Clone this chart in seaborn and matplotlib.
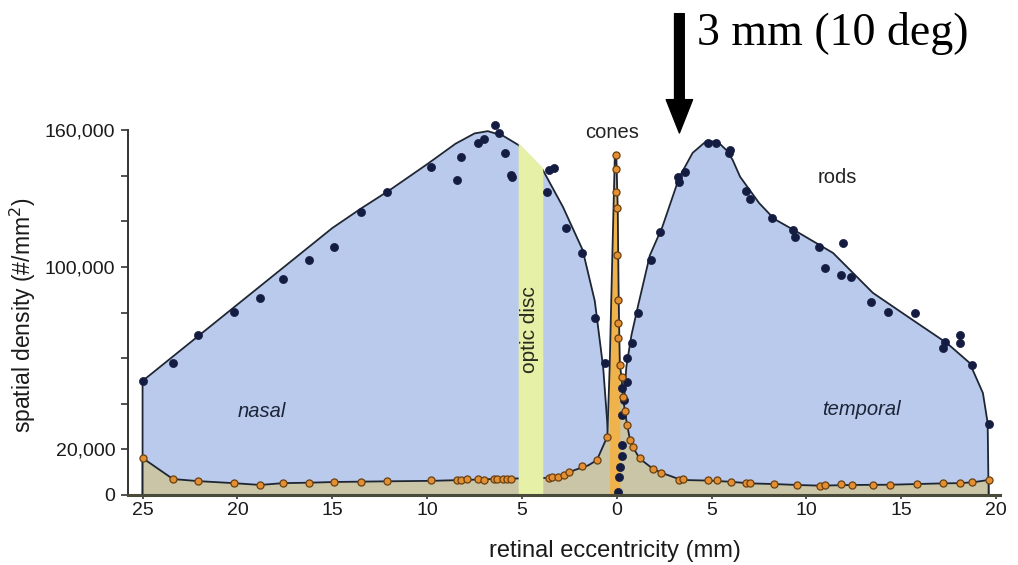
import numpy as np
import matplotlib
matplotlib.use("Agg")
import matplotlib.pyplot as plt
import seaborn as sns
from matplotlib.ticker import FixedLocator, FuncFormatter

# ---- rod density: fitted outline (nasal side negative, temporal positive), mm / cells per mm^2
rod_curve_x = [-25.0, -25.0, -20.0, -15.0, -13.5, -12.0, -10.0, -8.5, -7.5, -6.8, -6.0, -5.2,
               -3.9, -2.84, -1.8, -1.16, -0.72, -0.46, -0.19, -0.1,
               0.1, 0.3, 0.5, 0.77, 1.15, 1.74, 2.4, 3.3, 4.0, 4.7, 5.3, 5.8, 6.1, 6.5,
               7.5, 8.3, 9.6, 11.4, 13.5, 15.6, 17.4, 18.6, 19.3, 19.55, 19.6]
rod_curve_y = [0, 50000, 83500, 117000, 125500, 133500, 145000, 154000, 158500, 159500, 157500, 153500,
               142500, 126300, 107400, 85000, 56000, 27000, 3600, 0,
               0, 30000, 56000, 70000, 84000, 105000, 117500, 139400, 150000, 155000, 155000, 151000, 147000, 139500,
               128000, 121000, 114900, 106100, 88600, 76700, 66600, 57900, 44700, 31600, 0]

# ---- rod density: measured samples
rod_x = [-25.0, -23.4, -22.1, -20.2, -18.8, -17.6, -16.2, -14.9, -13.5, -12.1, -9.8, -8.4, -8.2,
         -7.3, -7.0, -6.4, -6.2, -5.9, -5.6, -5.5, -3.7, -3.6, -3.3, -2.7, -1.86, -1.16, -0.6,
         0.05, 0.1, 0.16, 0.25, 0.25, 0.3, 0.4, 0.3, 0.53, 0.53, 0.78, 1.1, 1.8, 2.26, 3.2, 3.3, 3.6,
         4.8, 5.25, 5.95, 5.9, 6.8, 7.0, 8.2, 9.3, 9.4, 10.65, 11.0, 11.9, 11.8, 12.35, 13.4, 14.3,
         15.7, 17.2, 17.3, 18.1, 18.1, 18.7, 19.6]
rod_y = [50000, 57900, 70100, 80400, 86400, 94700, 103000, 108500, 124200, 133000, 143900, 138100, 148300,
         154200, 156000, 162000, 158700, 149900, 140300, 139500, 133000, 142500, 143200, 117000, 106100, 77600, 57800,
         1300, 8000, 12300, 17000, 22000, 35000, 41600, 47000, 49500, 60000, 66600, 79800, 103000, 115400, 139500, 137400, 141700,
         154200, 154500, 151200, 149800, 133400, 129600, 121300, 116200, 113200, 108900, 99400, 110600, 96400, 95700, 84700, 80400,
         79900, 64300, 67200, 70100, 66500, 57000, 31100]

# ---- cone density: fitted outline
cone_curve_x = [-25.0, -25.0, -23.4, -22.1, -20.2, -18.8, -17.6, -16.2, -14.9, -12.1, -9.8, -8.0, -6.5,
                -5.5, -3.6, -2.8, -2.2, -1.5, -1.05, -0.5, -0.38, -0.25, -0.1, -0.03,
                0.05, 0.1, 0.16, 0.25, 0.33, 0.42, 0.55, 0.7, 0.85, 1.2, 1.9, 2.4, 3.4, 4.9,
                6.0, 7.0, 8.3, 9.5, 10.7, 12.4, 14.4, 15.8, 17.2, 18.1, 18.8, 19.6, 19.6]
cone_curve_y = [0, 16200, 7000, 6100, 5200, 4400, 5200, 5400, 5700, 6000, 6200, 6600, 7000,
                7200, 7500, 8800, 11000, 13000, 15300, 25600, 55000, 100000, 150000, 150000,
                125000, 85000, 57000, 51700, 43000, 37000, 30500, 24000, 21000, 16000, 11500, 9600, 6600, 6300,
                5800, 5100, 4800, 4400, 4100, 4400, 4500, 4800, 5100, 5200, 5600, 6600, 0]

# ---- cone density: measured samples
cone_x = [-25.0, -23.4, -22.1, -20.2, -18.8, -17.6, -16.2, -14.9, -13.5, -12.1, -9.8, -8.4, -8.2,
          -7.9, -7.3, -7.0, -6.5, -6.3, -6.0, -5.8, -5.6, -3.6, -3.4, -3.1, -2.8, -2.5, -1.86,
          -1.07, -0.54, -0.05, -0.03, -0.02, 0.0, 0.0, 0.05, 0.05, 0.05, 0.16, 0.25, 0.33, 0.42,
          0.53, 0.68, 0.85, 1.2, 1.9, 2.35, 3.3, 3.5, 4.8, 5.3, 6.0, 6.8, 7.0, 8.3, 9.5, 10.7,
          11.0, 11.8, 12.4, 13.5, 14.4, 15.8, 17.2, 18.1, 18.7, 19.6]
cone_y = [16200, 7000, 6100, 5200, 4400, 5200, 5400, 5700, 5900, 6200, 6400, 6600, 6600,
          6800, 6800, 6600, 7000, 7200, 6800, 7000, 7200, 7500, 8000, 8000, 8800, 10200, 12800,
          15300, 25600, 149000, 143000, 133000, 125700, 105200, 85500, 75400, 68800, 57000, 51700, 43000, 37000,
          30700, 24100, 21000, 16000, 11500, 9600, 6600, 6900, 6400, 6600, 5800, 5400, 5100, 4800, 4400, 3900,
          4400, 4700, 4400, 4400, 4400, 4800, 5100, 5100, 5600, 6600]

# ---- annotation positions
optic_disc = (-5.2, -3.9)
arrow_mm = 3.3
y_major = [0, 20000, 100000, 160000]
y_minor = [40000, 60000, 80000, 120000, 140000]
x_ticks = [-25, -20, -15, -10, -5, 0, 5, 10, 15, 20]

sns.set_style("ticks")
plt.rcParams["font.family"] = ["Liberation Sans", "DejaVu Sans"]

fig = plt.figure(figsize=(10.18, 5.65), dpi=100)
ax = fig.add_axes([0.1257, 0.1239, 0.8566, 0.646])

BLUE = "#b9caec"
BEIGE = "#c9c5a6"
ORANGE_FILL = "#f0b24a"
DOT_ORANGE = "#e38f34"
NAVY = "#141c42"
LINE = "#1f2633"
DISC = "#e6f0a6"

rx = np.array(rod_curve_x)
ry = np.array(rod_curve_y)
cx = np.array(cone_curve_x)
cy = np.array(cone_curve_y)

# rods: blue area under the outline
ax.fill_between(rx, 0, ry, color=BLUE, lw=0, zorder=1)
sns.lineplot(x=rod_curve_x, y=rod_curve_y, sort=False, estimator=None, color=LINE, lw=1.3, ax=ax, zorder=2)

# cones: beige area, with the foveal peak in orange
ax.fill_between(cx, 0, cy, color=BEIGE, lw=0, zorder=3)
peak = (cx >= -0.38) & (cx <= 0.16)
ax.fill_between(cx[peak], 0, cy[peak], color=ORANGE_FILL, lw=0, zorder=3.5)
sns.lineplot(x=cone_curve_x, y=cone_curve_y, sort=False, estimator=None, color=LINE, lw=1.3, ax=ax, zorder=4)

# optic disc band follows the rod outline
disc = (rx >= optic_disc[0]) & (rx <= optic_disc[1])
bx = np.concatenate([[optic_disc[0]], rx[disc], [optic_disc[1]]])
order = np.argsort(rx[1:-1])
by = np.interp(bx, rx[1:-1][order], ry[1:-1][order])
ax.fill_between(bx, 0, by + 900, color=DISC, lw=0, zorder=5)

# measured samples
sns.scatterplot(x=rod_x, y=rod_y, color=NAVY, s=34, edgecolor=NAVY, linewidth=0.5, ax=ax, zorder=6, clip_on=False)
sns.scatterplot(x=cone_x, y=cone_y, color=DOT_ORANGE, s=26, edgecolor="#6b4010", linewidth=0.9, ax=ax, zorder=7, clip_on=False)

# labels inside the plot
ax.text(-0.26, 158700, "cones", ha="center", va="center", fontsize=14.5, color="#222222", zorder=8)
ax.text(11.6, 139000, "rods", ha="center", va="center", fontsize=14.5, color="#222222", zorder=8)
ax.text(-18.7, 36400, "nasal", ha="center", va="center", fontsize=14.5, style="italic", color="#1d2438", zorder=8)
ax.text(12.9, 37300, "temporal", ha="center", va="center", fontsize=14.5, style="italic", color="#1d2438", zorder=8)
ax.text(-4.6, 72300, "optic disc", ha="center", va="center", fontsize=15, rotation=90, color="#2a2a20", zorder=8)

# axes styling
ax.set_xlim(-25.77, 20.2)
ax.set_ylim(0, 160000)
ax.xaxis.set_major_locator(FixedLocator(x_ticks))
ax.xaxis.set_major_formatter(FuncFormatter(lambda v, p: f"{abs(int(round(v)))}"))
ax.yaxis.set_major_locator(FixedLocator(y_major))
ax.yaxis.set_minor_locator(FixedLocator(y_minor))
ax.yaxis.set_major_formatter(FuncFormatter(lambda v, p: f"{int(v):,}"))
ax.tick_params(axis="both", which="both", direction="out", length=5, width=1.2, color="#333333",
               labelsize=14, labelcolor="#1a1a1a")
ax.tick_params(axis="y", pad=4)
ax.tick_params(axis="x", pad=2, length=3)
for side in ("top", "right"):
    ax.spines[side].set_visible(False)
ax.spines["left"].set_color("#333333")
ax.spines["left"].set_linewidth(1.4)
ax.spines["bottom"].set_color("#4a4a3a")
ax.spines["bottom"].set_linewidth(2.2)
ax.spines["bottom"].set_zorder(9)

ax.set_xlabel("retinal eccentricity (mm)", fontsize=17, color="#1a1a1a")
ax.set_ylabel("spatial density (#/mm$^2$)", fontsize=16.5, color="#1a1a1a")
ax.xaxis.set_label_coords(0.558, -0.122)
ax.yaxis.set_label_coords(-0.103, 0.493)

# arrow marking 3 mm eccentricity
ax.annotate("", xy=(arrow_mm, 158700), xytext=(arrow_mm, 211000),
            arrowprops=dict(facecolor="black", edgecolor="black", width=7, headwidth=19,
                            headlength=24, shrink=0),
            annotation_clip=False)
fig.text(0.685, 0.920, "3 mm (10 deg)", fontsize=33, va="baseline", ha="left",
         family=["Liberation Serif", "DejaVu Serif"], color="black")

fig.savefig("out.png", dpi=100, facecolor="white")
